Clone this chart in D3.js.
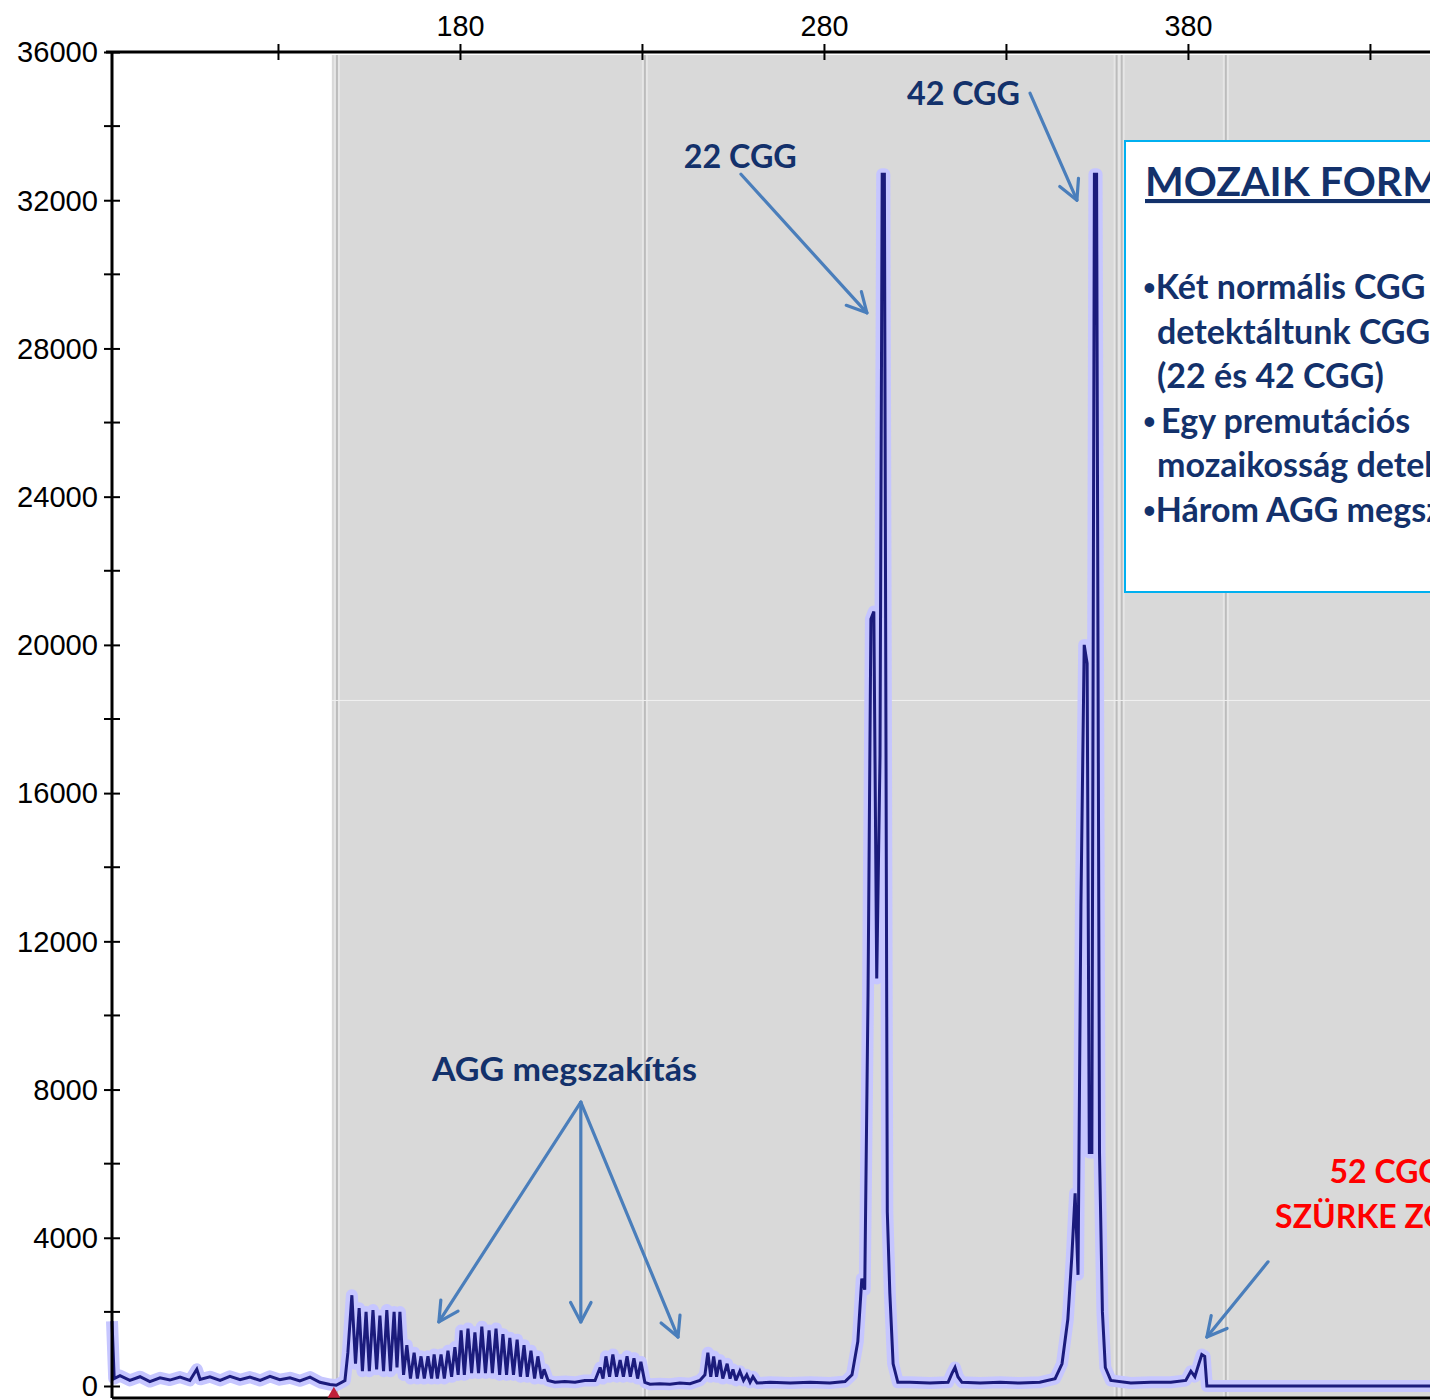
<!DOCTYPE html>
<html><head><meta charset="utf-8">
<script src="https://cdn.jsdelivr.net/npm/d3@7"></script>
<style>
html,body{margin:0;padding:0;background:#fff;overflow:hidden}
svg{display:block}
</style></head>
<body>
<svg id="c" width="1430" height="1400"></svg>
<script>
// ---- data (fragment size in bp, signal in RFU) ----
const sizesBp = [84.4,85.0,86.6,89.3,92.1,94.8,97.6,100.3,103.1,105.8,107.7,108.6,111.3,114.1,116.8,119.6,122.3,125.1,127.8,130.5,133.3,136.0,138.8,141.5,144.3,146.0,148.4,149.2,
150.3,151.3,152.3,153.2,154.2,155.1,156.1,157.1,158.0,159.0,159.9,160.9,161.9,162.7,163.5,164.5,165.4,166.4,167.4,168.3,169.3,170.2,171.2,172.2,172.9,173.8,174.8,175.7,176.7,177.7,178.6,179.5,
180.3,181.2,182.2,183.2,184.1,185.1,186.0,187.0,188.0,188.9,189.9,190.9,191.8,192.8,193.7,194.7,195.7,196.6,197.6,198.5,199.5,200.5,201.4,202.4,203.1,204.2,206.1,208.8,211.6,214.3,217.1,
218.5,219.3,220.1,221.1,222.0,223.0,224.0,224.9,225.9,226.8,227.8,228.8,229.7,230.8,232.2,234.9,237.7,240.4,243.2,245.9,247.3,248.1,248.9,249.7,250.5,251.4,252.2,253.4,254.2,255.0,255.8,256.9,257.9,258.8,259.7,260.5,261.6,265.2,270.7,276.2,281.6,285.8,287.7,289.3,
290.4,291.2,292.1,292.9,293.7,294.5,295.4,296.0,296.6,297.4,298.1,299.0,300.3,303.6,309.1,314.1,315.2,316.0,316.8,317.9,322.9,328.4,333.8,339.3,343.5,345.4,347.0,348.1,349.0,349.8,350.6,351.5,352.3,352.9,353.6,354.3,354.9,355.7,356.5,357.3,358.8,
364.3,369.8,375.3,379.4,380.8,381.9,383.0,383.8,384.6,385.2,446.5];
const rfu = [1750,200,280,150,250,120,220,160,240,150,450,180,250,150,260,170,240,150,260,170,220,140,240,100,40,20,150,900,
2450,600,2100,400,2000,400,2050,450,1900,400,2050,400,2000,500,2000,300,1100,200,900,200,800,200,800,200,850,200,850,200,950,250,1050,300,
1500,300,1550,350,1450,350,1600,350,1500,350,1550,300,1400,300,1300,300,1250,250,1100,250,950,200,800,200,450,150,100,120,100,150,150,
500,200,800,250,850,250,700,250,800,250,750,200,650,100,50,60,50,80,60,150,300,900,250,800,250,700,200,600,200,450,150,400,150,300,100,250,80,100,80,100,80,120,300,1200,
2900,2600,10500,20700,20900,11000,17000,32700,32700,4700,2500,600,100,100,80,100,350,500,250,100,80,100,80,100,200,600,1800,3500,5200,3000,13000,20000,19500,6300,6300,32700,32700,6300,2000,500,150,
80,100,100,150,400,250,600,850,800,0,0];

const yMajor = [0,4000,8000,12000,16000,20000,24000,28000,32000,36000];
const yMinor = [2000,6000,10000,14000,18000,22000,26000,30000,34000];
const xTicks = [130,180,230,280,330,380,430];
const xLabelled = [180,280,380];
const binEdges = [146.2,230.8,360.4,361.8,390.4];
const greyStartBp = 144.8;
const thresholdRfu = 18500;

// annotations in data coordinates
const pointerArrows = [
  {from:[336.6,34890], to:[349.5,32000]},
  {from:[257.2,32700], to:[291.8,28960]},
  {from:[213.2,7660], to:[174.2,1730]},
  {from:[213.2,7660], to:[213.2,1730]},
  {from:[213.2,7660], to:[239.9,1320]},
  {from:[402.0,3350], to:[385.2,1320]}
];
const labels = [
  {text:"42 CGG", at:[302.8,34570], color:"#13316b", anchor:"start"},
  {text:"22 CGG", at:[241.5,32870], color:"#13316b", anchor:"start"},
  {text:"AGG megszakítás", at:[172.3,8230], color:"#13316b", anchor:"start"},
  {text:"52 CGG", at:[434.3,5480], color:"#ff0000", anchor:"middle"},
  {text:"SZÜRKE ZÓNA", at:[434.3,4260], color:"#ff0000", anchor:"middle"}
];
const boxTitle = "MOZAIK FORMA";
const boxLines = [
  {bullet:"•", t:"Két normális CGG", indent:0},
  {bullet:"", t:"detektáltunk CGG", indent:1},
  {bullet:"", t:"(22 és 42 CGG)", indent:1},
  {bullet:"• ", t:"Egy premutációs", indent:0},
  {bullet:"", t:"mozaikosság detektálható", indent:1},
  {bullet:"•", t:"Három AGG megszakítás", indent:0}
];

// ---- drawing ----
const svg = d3.select("#c");
const W = 1430, H = 1400;
const x = d3.scaleLinear().domain([84.4,446.5]).range([112,1430]);
const y = d3.scaleLinear().domain([0,36000]).range([1386,52]);
const plotBottom = 1398;

// grey analysis region
svg.append("rect").attr("x", x(greyStartBp)).attr("y", 55)
  .attr("width", W - x(greyStartBp)).attr("height", plotBottom - 55).attr("fill", "#d9d9d9");
binEdges.forEach(b => {
  svg.append("line").attr("x1", x(b)).attr("x2", x(b)).attr("y1", 55).attr("y2", plotBottom)
    .attr("stroke", "#e6e6e6").attr("stroke-width", 6);
  svg.append("line").attr("x1", x(b)).attr("x2", x(b)).attr("y1", 55).attr("y2", plotBottom)
    .attr("stroke", "#bcbcbc").attr("stroke-width", 2);
});
svg.append("line").attr("x1", x(greyStartBp)).attr("x2", W).attr("y1", y(thresholdRfu)).attr("y2", y(thresholdRfu))
  .attr("stroke", "#f0f0f0").attr("stroke-width", 1);

// trace
const pts = sizesBp.map((s,i)=>[s, rfu[i]]);
const line = d3.line().x(d=>x(d[0])).y(d=>y(d[1]));
svg.append("path").attr("d", line(pts)).attr("fill","none")
  .attr("stroke","#c6c6ff").attr("stroke-width",12).attr("stroke-linejoin","round");
svg.append("path").attr("d", line(pts)).attr("fill","none")
  .attr("stroke","#1b1b7c").attr("stroke-width",3).attr("stroke-linejoin","miter").attr("stroke-miterlimit",3);

// axes
svg.append("line").attr("x1",106).attr("x2",W).attr("y1",52).attr("y2",52).attr("stroke","#000").attr("stroke-width",3);
svg.append("line").attr("x1",112).attr("x2",112).attr("y1",51).attr("y2",plotBottom).attr("stroke","#000").attr("stroke-width",3);
svg.append("line").attr("x1",112).attr("x2",W).attr("y1",plotBottom).attr("y2",plotBottom).attr("stroke","#000").attr("stroke-width",3);

const topAxis = d3.axisTop(x).tickValues(xTicks).tickSize(0)
  .tickFormat(d => xLabelled.includes(d) ? String(d) : "");
const gTop = svg.append("g").attr("transform","translate(0,52)").call(topAxis);
gTop.select(".domain").remove();
gTop.selectAll(".tick").append("line").attr("y1",-8).attr("y2",8).attr("stroke","#000").attr("stroke-width",2);
gTop.selectAll(".tick text").attr("y",-16)
  .attr("font-family","'Liberation Sans', Arial, sans-serif").attr("font-size",30).attr("fill","#000")
  .attr("textLength",48).attr("lengthAdjust","spacingAndGlyphs");

const leftAxis = d3.axisLeft(y).tickValues(yMajor).tickSize(0).tickFormat(d=>String(d));
const gLeft = svg.append("g").attr("transform","translate(112,0)").call(leftAxis);
gLeft.select(".domain").remove();
gLeft.selectAll(".tick").append("line").attr("x1",-8).attr("x2",8).attr("stroke","#000").attr("stroke-width",2);
gLeft.selectAll(".tick text").attr("x",-14).attr("dy","0.34em")
  .attr("font-family","'Liberation Sans', Arial, sans-serif").attr("font-size",29).attr("fill","#000")
  .each(function(d){ const n = String(d).length; d3.select(this).attr("textLength", 16.2*n).attr("lengthAdjust","spacingAndGlyphs"); });
svg.append("g").selectAll("line").data(yMinor).join("line")
  .attr("x1",104).attr("x2",120).attr("y1",d=>y(d)).attr("y2",d=>y(d)).attr("stroke","#000").attr("stroke-width",2);

// marker at bin start
svg.append("path").attr("d", d3.symbol(d3.symbolTriangle, 70)())
  .attr("transform", `translate(${x(greyStartBp)+2},${plotBottom-4})`).attr("fill","#c0203a");

// arrows
const arrowColor = "#4a7ebb";
function arrow(a){
  const x1=x(a.from[0]), y1=y(a.from[1]), x2=x(a.to[0]), y2=y(a.to[1]);
  const ang = Math.atan2(y2-y1, x2-x1);
  const L = 22, spread = Math.PI/6.5;
  const g = svg.append("g").attr("stroke",arrowColor).attr("stroke-width",3.2).attr("fill","none").attr("stroke-linecap","round");
  g.append("line").attr("x1",x1).attr("y1",y1).attr("x2",x2).attr("y2",y2);
  g.append("polyline").attr("points",[
    [x2 - L*Math.cos(ang-spread), y2 - L*Math.sin(ang-spread)],
    [x2,y2],
    [x2 - L*Math.cos(ang+spread), y2 - L*Math.sin(ang+spread)]
  ].map(p=>p.join(",")).join(" ")).attr("stroke-linejoin","round");
}
pointerArrows.forEach(arrow);

const fontAnn = "Lato, 'Open Sans', 'Noto Sans', sans-serif";
const labelWidth = {"AGG megszakítás": 265, "42 CGG": 113, "22 CGG": 113};
labels.forEach(l=>{
  const t = svg.append("text").attr("x",x(l.at[0])).attr("y",y(l.at[1])).attr("text-anchor",l.anchor)
    .attr("font-family",fontAnn).attr("font-weight",700).attr("font-size",32).attr("fill",l.color).text(l.text);
  if (labelWidth[l.text]) t.attr("textLength", labelWidth[l.text]).attr("lengthAdjust","spacingAndGlyphs");
});

// text box
const box = svg.append("g");
box.append("rect").attr("x",1125).attr("y",141).attr("width",340).attr("height",451)
  .attr("fill","#fff").attr("stroke","#00b0f0").attr("stroke-width",2);
box.append("text").attr("x",1145).attr("y",196).attr("font-family",fontAnn).attr("font-weight",700)
  .attr("font-size",41).attr("fill","#13316b").attr("text-decoration","underline").text(boxTitle);
boxLines.forEach((l,i)=>{
  const t = box.append("text").attr("x", l.indent ? 1157 : 1143).attr("y", 299 + i*44.6)
    .attr("font-family",fontAnn).attr("font-weight",700).attr("font-size",34).attr("fill","#13316b");
  if (l.bullet) t.append("tspan").attr("font-size",22).attr("dy",-4).text(l.bullet);
  t.append("tspan").attr("dy", l.bullet ? 4 : 0).text(l.t);
});
</script>
</body></html>
